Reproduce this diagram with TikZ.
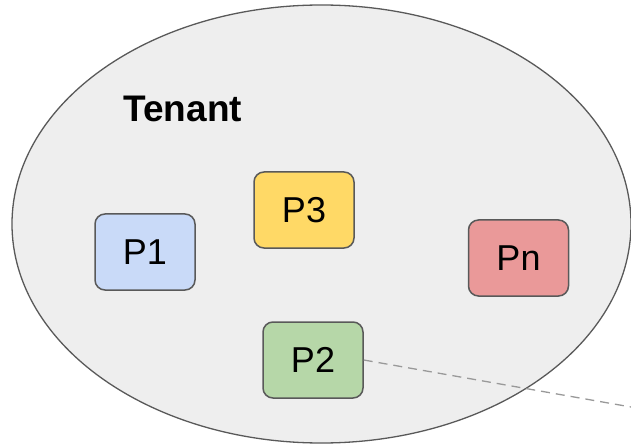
\documentclass[tikz,border=0pt]{standalone}
\usepackage{fontspec}
\setmainfont{Liberation Sans}
\usetikzlibrary{positioning,shapes.geometric}
\definecolor{tenantgray}{RGB}{238,238,238}
\definecolor{edgegray}{RGB}{89,89,89}
\definecolor{linkgray}{RGB}{153,153,153}
\definecolor{lightblue}{RGB}{201,218,248}
\definecolor{lightyellow}{RGB}{255,217,102}
\definecolor{lightgreen}{RGB}{182,215,168}
\definecolor{lightred}{RGB}{234,153,153}
\tikzset{
  tenantshape/.style={ellipse, draw=edgegray, fill=tenantgray, line width=1.3pt,
    minimum width=619pt, minimum height=438pt, inner sep=0pt},
  procbox/.style={draw=edgegray, line width=1.5pt, rounded corners=10pt,
    minimum width=100pt, minimum height=76pt, inner sep=0pt,
    font=\fontsize{36}{40}\selectfont},
  link/.style={draw=linkgray, line width=1.3pt, dash pattern=on 9pt off 6pt}
}
\begin{document}
\begin{tikzpicture}[x=1pt,y=-1pt]
\useasboundingbox (0,0) rectangle (631,446);
\node[tenantshape] (tenant) at (321.5,224) {};
\node[anchor=base west, font=\bfseries\fontsize{37}{40}\selectfont] (title) at (120,122) {Tenant};

\node[procbox, fill=lightblue] (p1) at (145,252) {P1};
\node[procbox, fill=lightyellow] (p3) at (304,210) {P3};
\node[procbox, fill=lightgreen] (p2) at (313,360) {P2};
\node[procbox, fill=lightred] (pn) at (518.5,258) {Pn};

\coordinate (away) at (631,407);
\draw[link] (p2.east) -- (away);
\end{tikzpicture}
\end{document}
